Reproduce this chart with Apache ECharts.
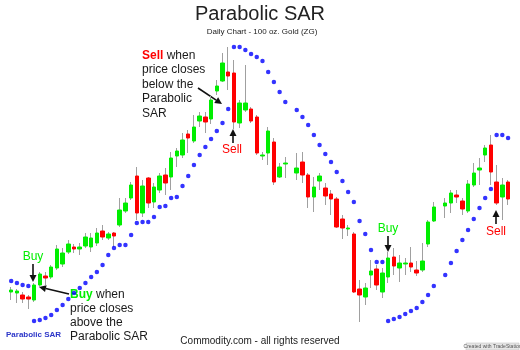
<!DOCTYPE html>
<html>
<head>
<meta charset="utf-8">
<title>Parabolic SAR</title>
<script src="https://cdn.jsdelivr.net/npm/echarts@6/dist/echarts.min.js"></script>
<style>
  html, body { margin: 0; padding: 0; background: #fff; }
  #chart { width: 520px; height: 350px; }
</style>
</head>
<body>
<div id="chart"></div>
<script>
// daily bars, oldest first (null = no trading that day)
const open = [58, 57, 55, 53, 50, 65, 74, 73, 82, 86,
  98, 103, 101, 104, 103, 107, 119, 112, 117, 125,
  139, 152, 174, 137, 172, 148, 160, 175, 173, 194,
  195, 216, 209, 229, 233, 231, 259, 269, 278, 277,
  227, 240, 241, 233, 194, 197, 208, 173, 186, null,
  177, 188, 175, 153, 169, 162, 156, 151, 131, 121,
  116, 61, 53, 75, 81, 58, 73, 93, 82, 86,
  87, 80, 80, 106, 129, null, 144, 147, 155, 149,
  139, 165, 180, 195, 205, 168, 153, 168];
const close = [60, 59, 51, 51, 65, 76, 72, 83, 101, 97,
  106, 101, 103, 113, 112, 117, 113, 116, 114, 140,
  147, 165, 137, 164, 147, 163, 174, 167, 192, 199,
  210, 212, 223, 234, 228, 250, 264, 287, 274, 228,
  247, 247, 229, 197, 195, 219, 168, 183, 187, null,
  182, 175, 153, 163, 174, 154, 151, 123, 122, 122,
  58, 55, 62, 79, 65, 77, 92, 84, 87, 87,
  83, 77, 89, 128, 143, null, 147, 157, 153, 141,
  166, 177, 182, 202, 178, 147, 165, 151];
const low = [50, 47, 47, 41, 48, 63, 65, 71, 80, 83,
  96, 97, 95, 102, 98, 104, 110, 110, 103, 123,
  137, 150, 130, 133, 142, 142, 157, 155, 160, 183,
  192, 197, 207, 223, 217, 226, 255, 268, 260, 221,
  222, 238, 227, 195, 190, 185, 165, 172, 172, null,
  170, 167, 142, 138, 160, 145, 135, 122, 111, 114,
  57, 28, 45, 62, 60, 52, 67, 75, 68, 75,
  78, 74, 78, 103, 128, null, 132, 137, 147, 135,
  137, 163, 165, 188, 165, 145, 130, 145];
const high = [63, 61, 58, 55, 67, 78, 78, 85, 105, 102,
  110, 106, 107, 117, 117, 122, 125, 118, 118, 152,
  152, 168, 183, 170, 173, 167, 177, 182, 198, 202,
  217, 220, 235, 238, 238, 254, 270, 297, 303, 290,
  250, 285, 243, 235, 198, 223, 212, 187, 193, null,
  197, 198, 177, 173, 177, 167, 160, 153, 135, 125,
  118, 70, 67, 90, 85, 82, 98, 102, 95, 92,
  103, 89, 107, 130, 148, null, 152, 160, 160, 152,
  170, 187, 192, 205, 215, 185, 172, 170];
const sar = [69, 67, 65, 64, 29, 30, 32, 35, 40, 45,
  51, 57, 62, 67, 73, 78, 85, 95, 102, 105,
  105, 115, 127, 128, 128, 133, 143, 144, 152, 153,
  164, 174, 185, 195, 203, 211, 219, 227, 241, 303,
  303, 300, 296, 293, 289, 278, 268, 258, 248, null,
  240, 233, 225, 215, 205, 196, 188, 178, 169, 158,
  148, 129, 116, 100, 88, 88, 29, 31, 33, 36,
  39, 42, 48, 55, 64, null, 75, 87, 99, 110,
  120, 131, 142, 152, 161, 215, 215, 212];
const days = open.map((_, i) => "D" + (i + 1));

const FONT = "Liberation Sans, Arial, sans-serif";
const GREEN = "#00ee00";
const RED = "#ff0000";

// full range for the grey wicks, open/close only for the coloured bodies
const wickData = open.map((o, i) => o == null ? ["-", "-", "-", "-"] : [o, close[i], low[i], high[i]]);
const bodyData = open.map((o, i) => o == null ? ["-", "-", "-", "-"] :
  [o, close[i], Math.min(o, close[i]), Math.max(o, close[i])]);

function txt(x, y, text, size, fill, extra) {
  return {
    type: "text", x: x, y: y, silent: true,
    style: Object.assign({
      text: text, fill: fill, fontSize: size, fontFamily: FONT,
      align: "center", verticalAlign: "middle"
    }, extra || {})
  };
}

function arrow(x1, y1, x2, y2) {
  const a = Math.atan2(y2 - y1, x2 - x1), L = 7, W = 3.5;
  const bx = x2 - L * Math.cos(a), by = y2 - L * Math.sin(a);
  return [
    { type: "line", silent: true, shape: { x1: x1, y1: y1, x2: bx, y2: by }, style: { stroke: "#111", lineWidth: 1.6 } },
    { type: "polygon", silent: true,
      shape: { points: [[x2, y2], [bx - W * Math.sin(a), by + W * Math.cos(a)], [bx + W * Math.sin(a), by - W * Math.cos(a)]] },
      style: { fill: "#111" } }
  ];
}

const chart = echarts.init(document.getElementById("chart"));
chart.setOption({
  animation: false,
  backgroundColor: "#ffffff",
  grid: { left: 8.35, right: 9.1, top: 0, bottom: 0 },
  xAxis: { type: "category", data: days, show: false, boundaryGap: true },
  yAxis: { type: "value", min: 0, max: 350, show: false },
  series: [
    {
      name: "wick",
      type: "candlestick",
      data: wickData,
      barWidth: 1,
      silent: true,
      itemStyle: { color: "#a0a0a0", color0: "#a0a0a0", borderColor: "#a0a0a0", borderColor0: "#a0a0a0", borderWidth: 1 }
    },
    {
      name: "body",
      type: "candlestick",
      data: bodyData,
      barWidth: 4,
      silent: true,
      itemStyle: { color: GREEN, color0: RED, borderColor: GREEN, borderColor0: RED, borderWidth: 1 }
    },
    {
      name: "Parabolic SAR",
      type: "scatter",
      data: sar.map(v => v == null ? "-" : v),
      symbol: "circle",
      symbolSize: 4.5,
      silent: true,
      itemStyle: { color: "#0000ff" }
    }
  ],
  graphic: [
    txt(260, 14, "Parabolic SAR", 20, "#222"),
    txt(262, 31.5, "Daily Chart - 100 oz. Gold (ZG)", 8, "#222"),
    {
      type: "text", x: 142, y: 48, silent: true,
      style: {
        text: "{s|Sell} when\nprice closes\nbelow the\nParabolic\nSAR",
        fill: "#1a1a1a", fontSize: 12, fontFamily: FONT, lineHeight: 14.5,
        align: "left", verticalAlign: "top",
        rich: { s: { fill: RED, fontWeight: "bold", fontSize: 12, fontFamily: FONT, lineHeight: 14.5 } }
      }
    },
    {
      type: "text", x: 70, y: 288, silent: true,
      style: {
        text: "{b|Buy} when\nprice closes\nabove the\nParabolic SAR",
        fill: "#1a1a1a", fontSize: 12, fontFamily: FONT, lineHeight: 14,
        align: "left", verticalAlign: "top",
        rich: { b: { fill: GREEN, fontWeight: "bold", fontSize: 12, fontFamily: FONT, lineHeight: 14 } }
      }
    },
    ...arrow(198, 88, 222, 104),
    ...arrow(233, 143, 233, 129),
    txt(232, 150, "Sell", 12, RED),
    txt(33, 257, "Buy", 12, GREEN),
    ...arrow(33, 264, 33, 282),
    ...arrow(69, 294, 39, 287),
    txt(388, 229, "Buy", 12, GREEN),
    ...arrow(388, 236, 388, 252),
    txt(496, 232, "Sell", 12, RED),
    ...arrow(496, 224, 496, 210),
    txt(6, 335, "Parabolic SAR", 8, "#2b35c8", { align: "left", fontWeight: "bold" }),
    txt(260, 341, "Commodity.com - all rights reserved", 10, "#222"),
    { type: "rect", silent: true, shape: { x: 466, y: 343, width: 53, height: 7 }, style: { fill: "#e6e6e6", stroke: "#bbbbbb", lineWidth: 0.5 } },
    txt(492.5, 346.5, "Created with TradeStation", 5, "#555")
  ]
});
</script>
</body>
</html>
